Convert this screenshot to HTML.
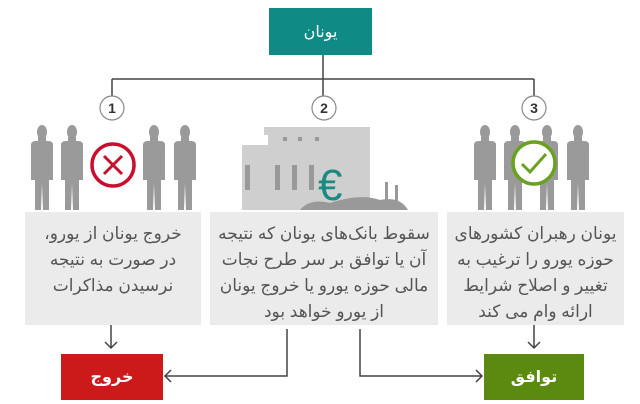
<!DOCTYPE html>
<html><head><meta charset="utf-8"><style>
body{margin:0;width:640px;height:404px;background:#fff;overflow:hidden;font-family:"Liberation Sans","DejaVu Sans",sans-serif}
.t{position:absolute;direction:rtl;text-align:center;color:#555;font-size:17px;line-height:26px;background:#ebebeb;padding-top:9px;box-sizing:border-box}
.b{position:absolute;color:#fff;font-size:16px;display:flex;align-items:center;justify-content:center;font-weight:bold}
</style></head><body>
<svg width="640" height="404" style="position:absolute;left:0;top:0">
<defs>
<g id="p" fill="#9a9a9a">
<ellipse cx="0" cy="7" rx="5" ry="7"/>
<rect x="-4" y="12" width="8" height="6"/>
<path d="M-11 20 Q-11 16 -6 16 L6 16 Q11 16 11 20 L11 55 L7 55 L7 85 L1 85 L0 58 L-1 85 L-7 85 L-7 55 L-11 55Z"/>
</g>
</defs>
<g stroke="#444" stroke-width="1.5" fill="none">
<path d="M323 55V79M112 79H534M112 79V96M534 79V96M323 79V96"/>
<path d="M111 325V348M105 342L111 348L117 342"/>
<path d="M534 325V348M528 342L534 348L540 342"/>
<path d="M287 329V376H165M171 370L165 376L171 382"/>
<path d="M360 329V376H482M476 370L482 376L476 382"/>
</g>
<g fill="#fff" stroke="#888" stroke-width="1.2">
<circle cx="112" cy="108" r="12"/><circle cx="324" cy="108" r="12"/><circle cx="534" cy="108" r="12"/>
</g>
<g font-size="14" font-weight="bold" fill="#333" text-anchor="middle">
<text x="112" y="113">1</text><text x="324" y="113">2</text><text x="534" y="113">3</text>
</g>
<use href="#p" x="42" y="125"/><use href="#p" x="72" y="125"/><use href="#p" x="154" y="125"/><use href="#p" x="185" y="125"/>
<circle cx="113" cy="165" r="21" fill="none" stroke="#c8102e" stroke-width="3.5"/>
<path d="M104 156L122 174M122 156L104 174" stroke="#c8102e" stroke-width="3"/>
<use href="#p" x="485" y="125"/><use href="#p" x="515" y="125"/><use href="#p" x="547" y="125"/><use href="#p" x="578" y="125"/>
<circle cx="534" cy="163" r="21" fill="#fff" stroke="#6aa121" stroke-width="3.5"/>
<path d="M522 164L530 172L546 154" fill="none" stroke="#6aa121" stroke-width="3"/>
<g fill="#cfcfcf">
<rect x="264" y="127" width="85" height="8"/>
<rect x="268" y="135" width="80" height="75"/>
<rect x="242" y="145" width="110" height="7"/>
<rect x="242" y="152" width="108" height="58"/>
<rect x="348" y="127" width="22" height="83"/>
</g>
<g fill="#999">
<rect x="275" y="165" width="5" height="25"/><rect x="292" y="165" width="5" height="25"/><rect x="309" y="165" width="5" height="25"/>
<rect x="245" y="165" width="5" height="25"/>
<rect x="283" y="137" width="4" height="4"/><rect x="298" y="137" width="4" height="4"/><rect x="315" y="137" width="4" height="4"/>
<path d="M300 210Q310 198 330 203Q360 193 380 200Q400 196 408 210Z"/>
<rect x="385" y="182" width="3" height="28"/><rect x="395" y="185" width="3" height="25"/>
</g>
<text x="318" y="200" font-size="44" fill="#1a8a82" font-family="Liberation Sans">€</text>
</svg>
<div class="b" style="left:269px;top:8px;width:103px;height:47px;background:#0f8a85;font-weight:normal">یونان</div>
<div class="t" style="left:25px;top:212px;width:176px;height:113px">خروج یونان از یورو،<br>در صورت به نتیجه<br>نرسیدن مذاکرات</div>
<div class="t" style="left:210px;top:212px;width:228px;height:113px">سقوط بانک‌های یونان که نتیجه<br>آن یا توافق بر سر طرح نجات<br>مالی حوزه یورو یا خروج یونان<br>از یورو خواهد بود</div>
<div class="t" style="left:447px;top:212px;width:177px;height:113px">یونان رهبران کشورهای<br>حوزه یورو را ترغیب به<br>تغییر و اصلاح شرایط<br>ارائه وام می کند</div>
<div class="b" style="left:61px;top:354px;width:102px;height:46px;background:#cc1a1a">خروج</div>
<div class="b" style="left:484px;top:354px;width:100px;height:46px;background:#5a8a10">توافق</div>
</body></html>
